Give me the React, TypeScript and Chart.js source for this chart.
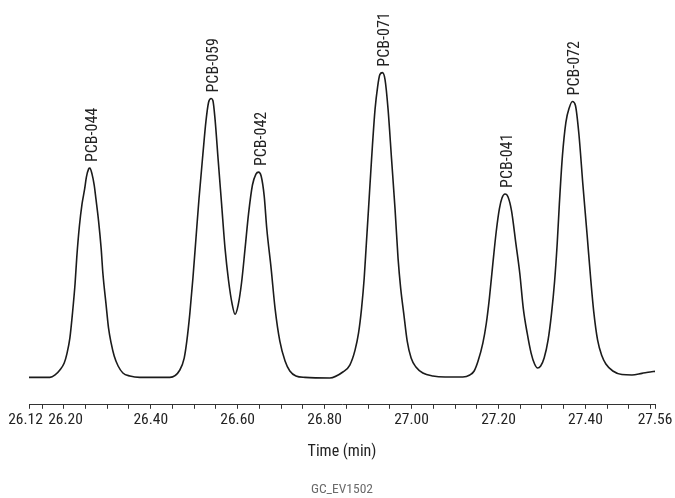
import React, { useEffect, useRef } from "react";
import { Chart, registerables } from "chart.js";

Chart.register(...registerables);

// Retention time (min)
const times = [
  26.120, 26.168, 26.180, 26.191, 26.201, 26.207, 26.214, 26.220, 26.226, 26.230,
  26.236, 26.242, 26.248, 26.252, 26.257, 26.260, 26.265, 26.270, 26.274, 26.280,
  26.286, 26.290, 26.297, 26.303, 26.309, 26.316, 26.325, 26.336, 26.352, 26.375,
  26.444,
  26.467, 26.477, 26.483, 26.490, 26.497, 26.504, 26.511, 26.520, 26.527, 26.533,
  26.539, 26.543, 26.548, 26.555, 26.563, 26.571, 26.579, 26.587, 26.594, 26.601,
  26.609, 26.617, 26.625, 26.634, 26.642, 26.648, 26.654, 26.661, 26.667, 26.677,
  26.686, 26.697, 26.709, 26.720, 26.734, 26.755, 26.812,
  26.842, 26.858, 26.870, 26.878, 26.885, 26.891, 26.896, 26.901, 26.908, 26.916,
  26.922, 26.927, 26.933, 26.939, 26.946, 26.954, 26.962, 26.969, 26.975, 26.982,
  26.990, 26.999, 27.010, 27.026, 27.049, 27.077, 27.118,
  27.134, 27.144, 27.153, 27.164, 27.172, 27.179, 27.187, 27.195, 27.202, 27.208,
  27.215, 27.222, 27.230, 27.240, 27.249, 27.257, 27.266, 27.275, 27.283, 27.290,
  27.297, 27.305, 27.314, 27.322, 27.329, 27.335, 27.340, 27.347, 27.355, 27.363,
  27.370, 27.377, 27.385, 27.394, 27.404, 27.412, 27.419, 27.428, 27.438, 27.447,
  27.463, 27.484, 27.507, 27.530, 27.549, 27.560,
];

// Detector signal (arbitrary units)
const signal = [
  6.9, 6.9, 7.5, 8.75, 10.5, 12.75, 16.75, 23, 30.5, 37.25,
  45, 50.5, 54.25, 57.25, 59.25, 59.5, 58, 55.25, 51.75, 46.25,
  39.25, 33, 25.5, 19.25, 15.5, 12.25, 9.75, 8, 7.25, 6.9,
  6.9,
  8.75, 11.75, 16, 23, 31.75, 41.75, 51.75, 63, 71.25, 76,
  77, 76.5, 71.75, 61.75, 50.5, 39.25, 31.25, 25.5, 22.75, 25,
  30.75, 39.25, 48, 55.25, 58, 58.5, 57.5, 52.5, 44.25, 34.25,
  24.25, 16, 11, 8.5, 7.25, 6.9, 6.75,
  8.25, 10, 13.75, 18, 24.25, 31.75, 40.5, 49.25, 61.75, 74.25,
  80, 83, 83.5, 81.75, 74.25, 61.75, 49.25, 36.75, 29.25, 23,
  16, 11.75, 9.5, 8, 7.25, 7, 7,
  7.5, 8.5, 11, 15.5, 20.5, 26.75, 35.5, 43.75, 49.25, 52,
  53, 52.25, 48.75, 40.5, 33, 24.25, 18, 13, 10.25, 9.25,
  9.75, 11.75, 16.25, 23, 31, 40.5, 50.5, 62.5, 71, 74.75,
  76.25, 75.25, 68, 55.5, 42.5, 31.75, 23.5, 16.25, 12.25, 10.25,
  8.5, 7.6, 7.5, 7.9, 8.25, 8.4,
];

const peakNames = ["PCB-044", "PCB-059", "PCB-042", "PCB-071", "PCB-041", "PCB-072"];
const peakTimes = [26.26, 26.539, 26.648, 26.933, 27.215, 27.37];
const peakHeights = [59.5, 77, 58.5, 83.5, 53, 76.25];

const labeledTicks = [26.12, 26.2, 26.4, 26.6, 26.8, 27.0, 27.2, 27.4, 27.56];
const tickLabels = ["26.12\u2002", " 26.20", "26.40", "26.60", "26.80", "27.00", "27.20", "27.40", "27.56"];
const minorTicks = [
  26.15, 26.25, 26.3, 26.35, 26.45, 26.5, 26.55, 26.65, 26.7, 26.75,
  26.85, 26.9, 26.95, 27.05, 27.1, 27.15, 27.25, 27.3, 27.35, 27.45,
  27.5, 27.55,
];

const FONT = '"Roboto Condensed", Roboto, sans-serif';

const peakLabelPlugin = {
  id: "peakLabels",
  afterDatasetsDraw(chart: any) {
    const { ctx, scales } = chart;
    const x = scales.x;
    const y = scales.y;
    ctx.save();
    ctx.font = `16px ${FONT}`;
    ctx.fillStyle = "#222";
    ctx.textAlign = "left";
    ctx.textBaseline = "middle";
    peakNames.forEach((name, i) => {
      const px = x.getPixelForValue(peakTimes[i]);
      const py = y.getPixelForValue(peakHeights[i]);
      ctx.save();
      ctx.translate(px + 3, py - 6);
      ctx.rotate(-Math.PI / 2);
      ctx.fillText(name, 0, 0);
      ctx.restore();
    });
    ctx.restore();
  },
};

export default function App() {
  const ref = useRef<HTMLCanvasElement | null>(null);

  useEffect(() => {
    if (!ref.current) return;
    const chart = new Chart(ref.current, {
      type: "line",
      data: {
        datasets: [
          {
            data: times.map((t, i) => ({ x: t, y: signal[i] })),
            borderColor: "#1b1b1b",
            borderWidth: 1.6,
            pointRadius: 0,
            fill: false,
            cubicInterpolationMode: "monotone",
          },
        ],
      },
      options: {
        animation: false,
        responsive: false,
        layout: { padding: { left: 29, right: 20, top: 7, bottom: 0 } },
        plugins: {
          legend: { display: false },
          tooltip: { enabled: false },
          title: {
            display: true,
            text: "GC_EV1502",
            position: "bottom",
            color: "#6b6b6b",
            font: { family: FONT, size: 13.5, weight: "normal" },
            padding: { top: 20.7, bottom: 0 },
          },
        },
        scales: {
          x: {
            type: "linear",
            min: 26.12,
            max: 27.56,
            afterBuildTicks: (scale: any) => {
              scale.ticks = [...labeledTicks, ...minorTicks]
                .sort((a, b) => a - b)
                .map((v) => ({ value: v }));
            },
            grid: {
              display: true,
              drawOnChartArea: false,
              drawTicks: true,
              tickLength: 4,
              color: "#333",
              lineWidth: 1,
            },
            border: { display: true, color: "#333", width: 1 },
            ticks: {
              autoSkip: false,
              maxRotation: 0,
              minRotation: 0,
              padding: 2.2,
              color: "#222",
              font: { family: FONT, size: 15.5 },
              callback: (value: any) => {
                const i = labeledTicks.findIndex((t) => Math.abs(t - Number(value)) < 1e-6);
                return i >= 0 ? tickLabels[i] : "";
              },
            },
            title: {
              display: true,
              text: "Time (min)",
              color: "#222",
              font: { family: FONT, size: 16 },
              padding: { top: 10.1, bottom: 0 },
            },
          },
          y: { display: false, min: 0, max: 100 },
        },
      },
      plugins: [peakLabelPlugin],
    } as any);
    return () => chart.destroy();
  }, []);

  return (
    <div style={{ position: "fixed", left: 0, top: 0, width: 675, height: 498, background: "#fff" }}>
      <canvas ref={ref} width={675} height={498} style={{ width: 675, height: 498 }} />
    </div>
  );
}
